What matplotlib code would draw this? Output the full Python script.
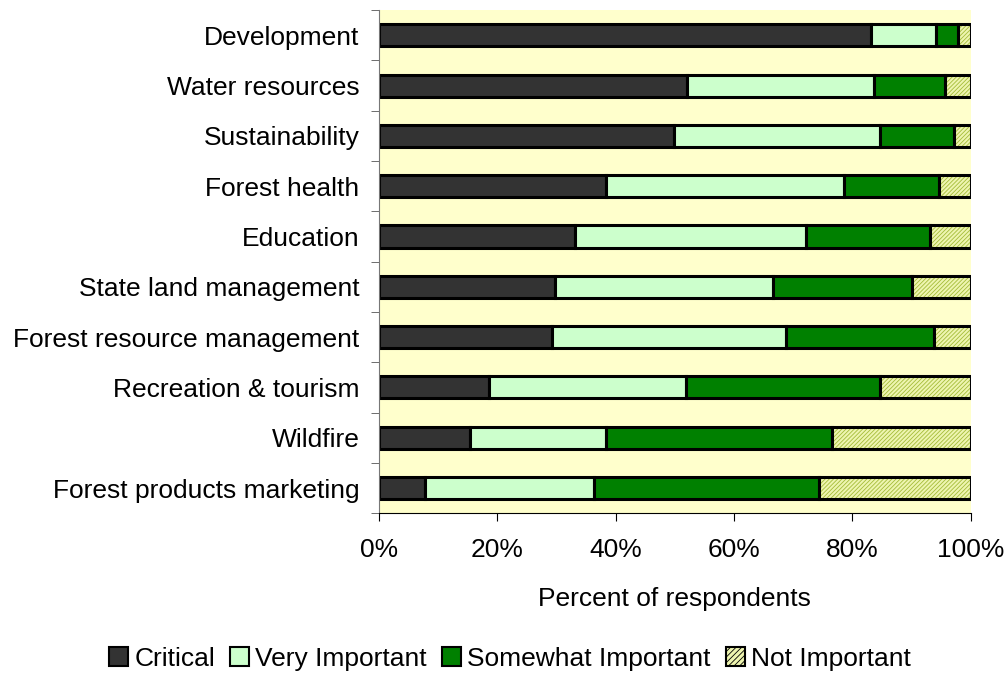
import numpy as np
import matplotlib
matplotlib.use("Agg")
import matplotlib.pyplot as plt

plt.rcParams['font.family'] = ['Liberation Sans', 'DejaVu Sans']
plt.rcParams['hatch.linewidth'] = 0.6

# データ (上から順)
categories = ["Development", "Water resources", "Sustainability", "Forest health",
              "Education", "State land management", "Forest resource management",
              "Recreation & tourism", "Wildfire", "Forest products marketing"]
critical = [83.1, 52.0, 49.8, 38.4, 33.2, 29.7, 29.2, 18.6, 15.4, 7.8]
very_imp = [11.1, 31.7, 34.9, 40.2, 38.9, 36.9, 39.6, 33.3, 22.9, 28.5]
somewhat = [3.7, 12.0, 12.4, 16.0, 21.1, 23.4, 25.0, 32.8, 38.3, 38.0]
not_imp = [2.1, 4.3, 2.9, 5.4, 6.8, 10.0, 6.2, 15.3, 23.4, 25.7]

series = [critical, very_imp, somewhat, not_imp]
names = ["Critical", "Very Important", "Somewhat Important", "Not Important"]
colors = ["#333333", "#ccffcc", "#008000", "#eef5b0"]

fig = plt.figure(figsize=(10.08, 6.77), dpi=100)
ax = fig.add_axes([0.376, 0.242, 0.587, 0.743])
ax.set_facecolor("#ffffcc")

y = np.arange(len(categories))[::-1]
left = np.zeros(len(categories))
handles = []
bh = 0.44
for vals, name, c in zip(series, names, colors):
    vals = np.array(vals)
    if name == "Not Important":
        # ハッチだけ別に描く (枠は黒)
        ax.barh(y, vals, left=left, height=bh, color=c, edgecolor="#a4bc38",
                hatch="////////", linewidth=0)
        ax.barh(y, vals, left=left, height=bh, color="none",
                edgecolor="black", linewidth=2.2)
        h = plt.Rectangle((0, 0), 1, 1, facecolor=c, edgecolor="black",
                          hatch="//////", linewidth=1.5)
    else:
        ax.barh(y, vals, left=left, height=bh, color=c,
                edgecolor="black", linewidth=2.2)
        h = plt.Rectangle((0, 0), 1, 1, facecolor=c, edgecolor="black", linewidth=1.5)
    handles.append(h)
    left += vals

ax.set_xlim(0, 100)
ax.set_ylim(-0.5, len(categories) - 0.5)
ax.set_xticks(np.arange(0, 101, 20))
ax.set_xticklabels([f"{v}%" for v in range(0, 101, 20)], fontsize=19)
ax.set_yticks(y)
ax.set_yticklabels(categories, fontsize=19)
ax.set_yticks(np.arange(-0.5, len(categories), 1), minor=True)
ax.tick_params(axis="y", which="major", length=0, pad=14)
ax.tick_params(axis="y", which="minor", length=6, direction="out", color="#555555")
ax.tick_params(axis="x", length=6, direction="out", pad=12)
for s in ["top", "right"]:
    ax.spines[s].set_visible(False)
ax.spines["left"].set_color("#777777")
ax.spines["bottom"].set_color("black")
ax.set_xlabel("Percent of respondents", fontsize=19, labelpad=18)

fig.legend(handles, names, loc="center", bbox_to_anchor=(0.506, 0.027), ncol=4,
           frameon=False, fontsize=19, handlelength=0.72, handleheight=0.72,
           handletextpad=0.23, columnspacing=0.57, borderpad=0.1)

fig.savefig("out.png", dpi=100)
